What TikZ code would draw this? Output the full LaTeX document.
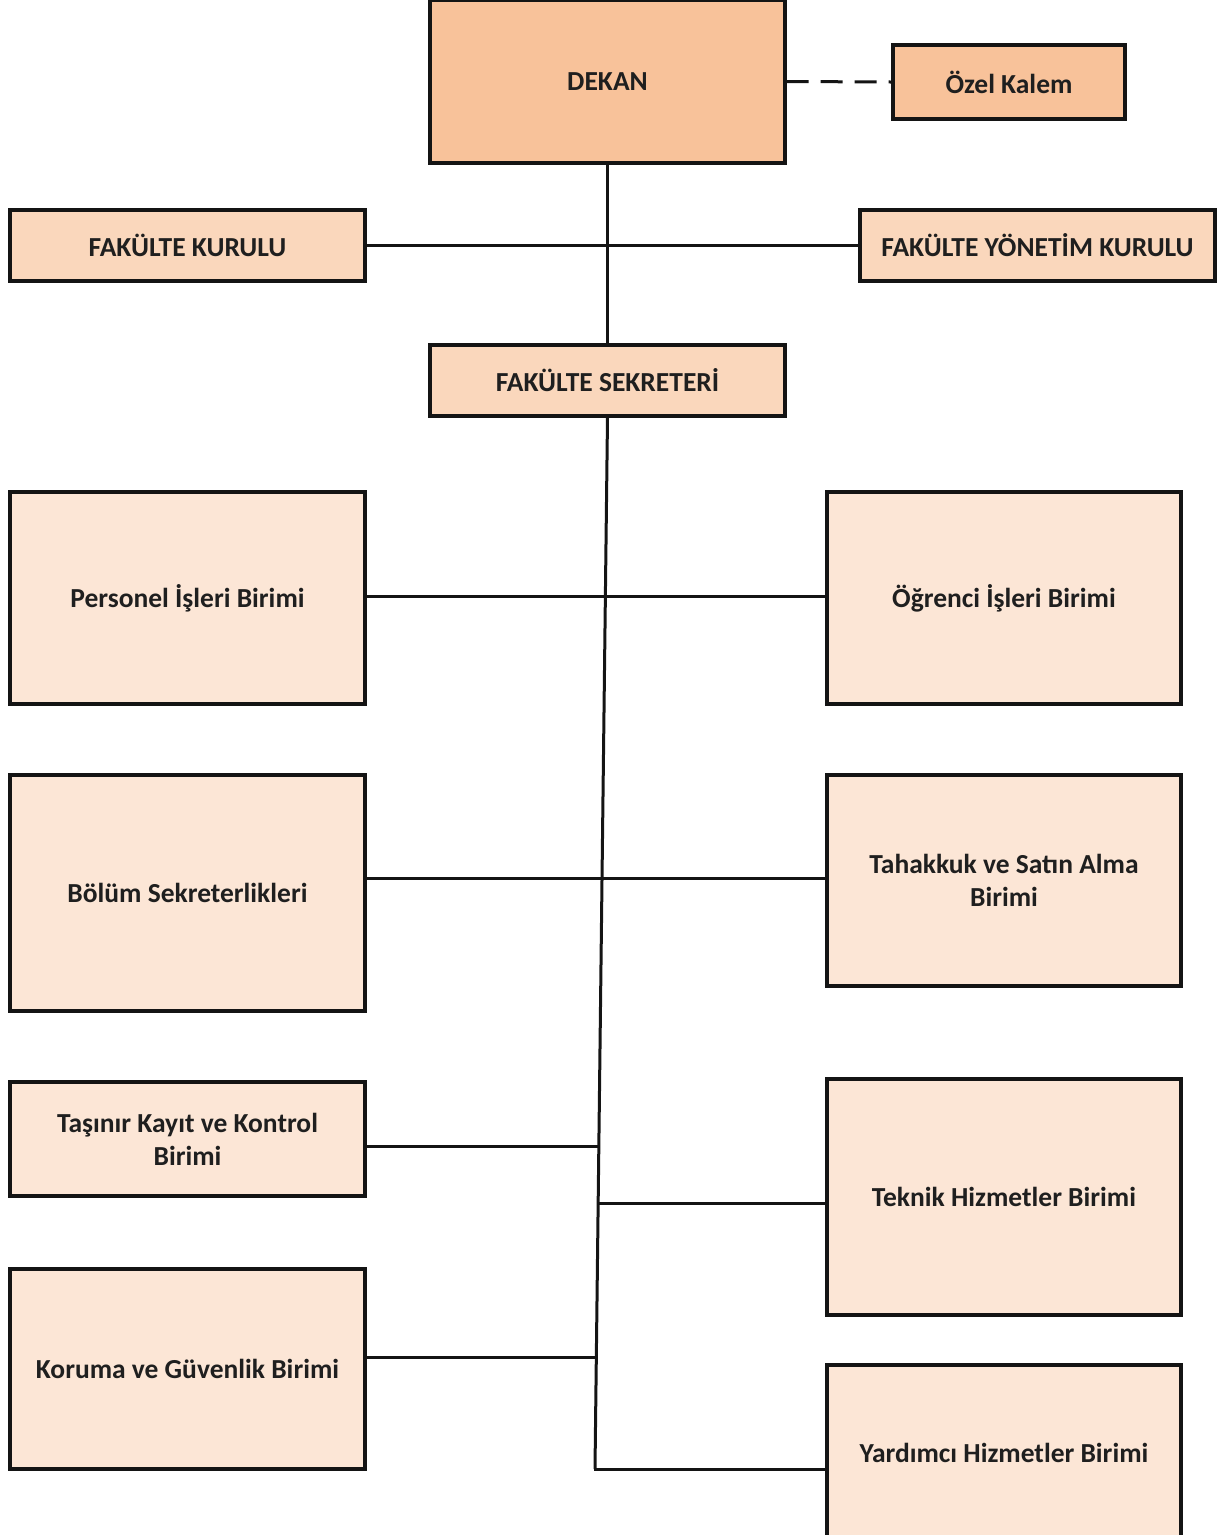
\documentclass[tikz,border=0pt]{standalone}
\usepackage{fontspec}
\setmainfont{Carlito}
\definecolor{cdark}{HTML}{F8C29A}
\definecolor{cmid}{HTML}{FAD7BC}
\definecolor{clight}{HTML}{FCE6D6}
\definecolor{cline}{HTML}{141414}
\begin{document}
\begin{tikzpicture}[x=1pt,y=-1pt,
  box/.style={draw=cline, line width=3.2pt, rectangle, inner sep=2pt, align=center,
    font=\fontsize{27.5}{33}\selectfont\bfseries, text=black!88},
  conn/.style={draw=cline, line width=3pt}]
\useasboundingbox (0,0) rectangle (1219,1535);
% top
\node[box, fill=cdark, minimum width=355pt, minimum height=163pt] (dekan) at (607.5,81.5) {DEKAN};
\node[box, fill=cdark, minimum width=232pt, minimum height=74pt] (ozel) at (1009,82) {Özel Kalem};
\node[box, fill=cmid, minimum width=355pt, minimum height=71pt] (fk) at (187.5,245.5) {FAKÜLTE KURULU};
\node[box, fill=cmid, minimum width=355pt, minimum height=71pt] (fyk) at (1037.5,245.5) {FAKÜLTE YÖNETİM KURULU};
\node[box, fill=cmid, minimum width=355pt, minimum height=71pt] (sek) at (607.5,380.5) {FAKÜLTE SEKRETERİ};
% left column
\node[box, fill=clight, minimum width=355pt, minimum height=212pt] (per) at (187.5,598) {Personel İşleri Birimi};
\node[box, fill=clight, minimum width=355pt, minimum height=236pt] (bol) at (187.5,893) {Bölüm Sekreterlikleri};
\node[box, fill=clight, minimum width=355pt, minimum height=114pt] (tas) at (187.5,1139) {Taşınır Kayıt ve Kontrol\\Birimi};
\node[box, fill=clight, minimum width=355pt, minimum height=200pt] (kor) at (187.5,1369) {Koruma ve Güvenlik Birimi};
% right column
\node[box, fill=clight, minimum width=354pt, minimum height=212pt] (ogr) at (1004,598) {Öğrenci İşleri Birimi};
\node[box, fill=clight, minimum width=354pt, minimum height=211pt] (tah) at (1004,880.5) {Tahakkuk ve Satın Alma\\Birimi};
\node[box, fill=clight, minimum width=354pt, minimum height=236pt] (tek) at (1004,1197) {Teknik Hizmetler Birimi};
\node[box, fill=clight, minimum width=354pt, minimum height=175pt] (yar) at (1004,1452.5) {Yardımcı Hizmetler Birimi};
% connectors
\draw[conn, dash pattern=on 22pt off 12pt] (dekan.east) -- (ozel.west);
\draw[conn] (dekan.south) -- (sek.north);
\draw[conn] (fk.east) -- (fyk.west);
\coordinate (tbot) at (595,1469);
\draw[conn] (sek.south) -- (tbot);
\draw[conn] (per.east |- 0,596) -- (ogr.west |- 0,596);
\draw[conn] (bol.east |- 0,878) -- (tah.west |- 0,878);
\coordinate (t1) at (598.7,1146);
\coordinate (t2) at (598,1203);
\coordinate (t3) at (596.3,1357);
\draw[conn] (tas.east |- t1) -- (t1);
\draw[conn] (t2) -- (tek.west |- t2);
\draw[conn] (kor.east |- t3) -- (t3);
\draw[conn, line cap=rect] (tbot) -- (yar.west |- tbot);
\end{tikzpicture}
\end{document}
